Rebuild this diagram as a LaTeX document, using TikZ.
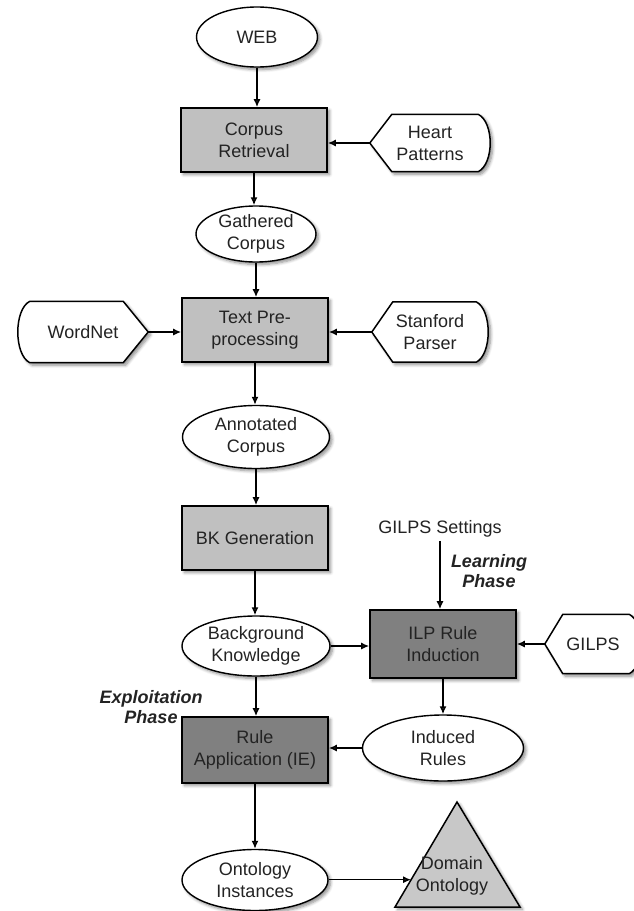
\documentclass[tikz,border=0pt]{standalone}
\usepackage{fontspec}
\setmainfont{Liberation Sans}
\usetikzlibrary{arrows.meta,shapes.geometric,calc,backgrounds,shadows.blur}

\definecolor{boxlight}{RGB}{192,192,192}
\definecolor{boxdark}{RGB}{128,128,128}
\definecolor{trifill}{RGB}{200,200,200}
\definecolor{ink}{RGB}{35,35,35}

\tikzset{
  every node/.style={font=\fontsize{18}{22}\selectfont, text=ink, align=center},
  sh/.style={blur shadow={shadow xshift=2.5pt, shadow yshift=-2.5pt,
             shadow blur steps=6, shadow opacity=45, shadow blur radius=3pt}},
  procbox/.style={draw=black, line width=1.6pt, fill=boxlight,
                  minimum width=146, minimum height=64, inner sep=0pt, sh},
  darkbox/.style={procbox, fill=boxdark},
  store/.style={ellipse, draw=black, line width=1.4pt, fill=white, inner sep=0pt, sh},
  src/.style={minimum width=120, minimum height=58, inner sep=0pt},
  dispshape/.style={draw=black, line width=1.5pt, fill=white, sh},
  flow/.style={line width=1.5pt, -{Latex[length=8pt,width=7pt]}},
  phase/.style={font=\fontsize{18}{20}\selectfont\bfseries\itshape},
}

% outline of an input source: point on the left, rounded on the right
\newcommand\ptrleft[2]{%
  \path[dispshape] (#1.west) -- ($(#1.north west)+(#2,0)$)
    -- ($(#1.north east)+(-12,0)$)
    .. controls ($(#1.north east)+(4,8)$) and ($(#1.south east)+(4,-8)$) ..
    ($(#1.south east)+(-12,0)$) -- ($(#1.south west)+(#2,0)$) -- cycle;}
% outline of an input source: point on the right, rounded on the left
\newcommand\ptrright[2]{%
  \path[dispshape] (#1.east) -- ($(#1.north east)+(-#2,0)$)
    -- ($(#1.north west)+(12,0)$)
    .. controls ($(#1.north west)+(-4,8)$) and ($(#1.south west)+(-4,-8)$) ..
    ($(#1.south west)+(12,0)$) -- ($(#1.south east)+(-#2,0)$) -- cycle;}

\begin{document}
\begin{tikzpicture}[x=1pt, y=-1pt]
\path[use as bounding box] (0,0) rectangle (633,911);

% main pipeline
\node[store, minimum width=121, minimum height=60] (web) at (257,37) {WEB};
\node[procbox] (cr) at (254,140) {Corpus\\Retrieval};
\node[store, minimum width=120, minimum height=56] (gc) at (256,234) {Gathered\\Corpus};
\node[procbox] (tp) at (255,330) {Text Pre-\\processing};
\node[store, minimum width=147, minimum height=63] (ac) at (256,437) {Annotated\\Corpus};
\node[procbox] (bk) at (255,538) {BK Generation};
\node[store, minimum width=148, minimum height=60] (bg) at (256,646) {Background\\Knowledge};
\node[darkbox, minimum height=66] (ra) at (255,750) {Rule\\Application (IE)};
\node[store, minimum width=146, minimum height=61] (oi) at (255,880) {Ontology\\Instances};

% learning branch
\node (gs) at (440,529) {GILPS Settings};
\node[phase] (lp) at (489,571) {Learning\\Phase};
\node[darkbox, minimum height=68] (ilp) at (443,644) {ILP Rule\\Induction};
\node[store, minimum width=161, minimum height=66] (ir) at (443,748) {Induced\\Rules};
\node[phase] (ep) at (151,707) {Exploitation\\Phase};

% external resources
\node[src, minimum height=57] (hp) at (430,143) {Heart\\Patterns};
\node[src, minimum width=130, minimum height=61] (wn) at (83,332) {WordNet};
\node[src, minimum width=116, minimum height=60] (sp) at (430,332) {Stanford\\Parser};
\node[src, minimum width=96, minimum height=59] (gilps) at (593,644) {GILPS};

% domain ontology triangle
\coordinate (apex) at (457,802);
\coordinate (basew) at (395,907);
\coordinate (basee) at (520,907);
\path[draw=black, line width=1.5pt, fill=trifill, sh] (apex) -- (basee) -- (basew) -- cycle;
\node (dom) at (452,876) {Domain\\Ontology};
\coordinate (domedge) at ($(basew)!0.26!(apex)$);

\begin{scope}[on background layer]
  \ptrleft{hp}{22}
  \ptrright{wn}{25}
  \ptrleft{sp}{21}
  \ptrleft{gilps}{18}
\end{scope}

% connectors
\draw[flow] (web.south) -- (web.south |- cr.north);
\draw[flow] (cr.south) -- (cr.south |- gc.north);
\draw[flow] (gc.south) -- (gc.south |- tp.north);
\draw[flow] (tp.south) -- (tp.south |- ac.north);
\draw[flow] (ac.south) -- (ac.south |- bk.north);
\draw[flow] (bk.south) -- (bk.south |- bg.north);
\draw[flow] (bg.south) -- (bg.south |- ra.north);
\draw[flow] (ra.south) -- (ra.south |- oi.north);
\draw[flow] (hp.west) -- (hp.west -| cr.east);
\draw[flow] (wn.east) -- (wn.east -| tp.west);
\draw[flow] (sp.west) -- (sp.west -| tp.east);
\draw[flow] (gs.south) -- (gs.south |- ilp.north);
\draw[flow] (bg.east) -- (bg.east -| ilp.west);
\draw[flow] (gilps.west) -- (gilps.west -| ilp.east);
\draw[flow] (ilp.south) -- (ilp.south |- ir.north);
\draw[flow] (ir.west) -- (ir.west -| ra.east);
\draw[flow] (oi.east |- domedge) -- (domedge);
\end{tikzpicture}
\end{document}
